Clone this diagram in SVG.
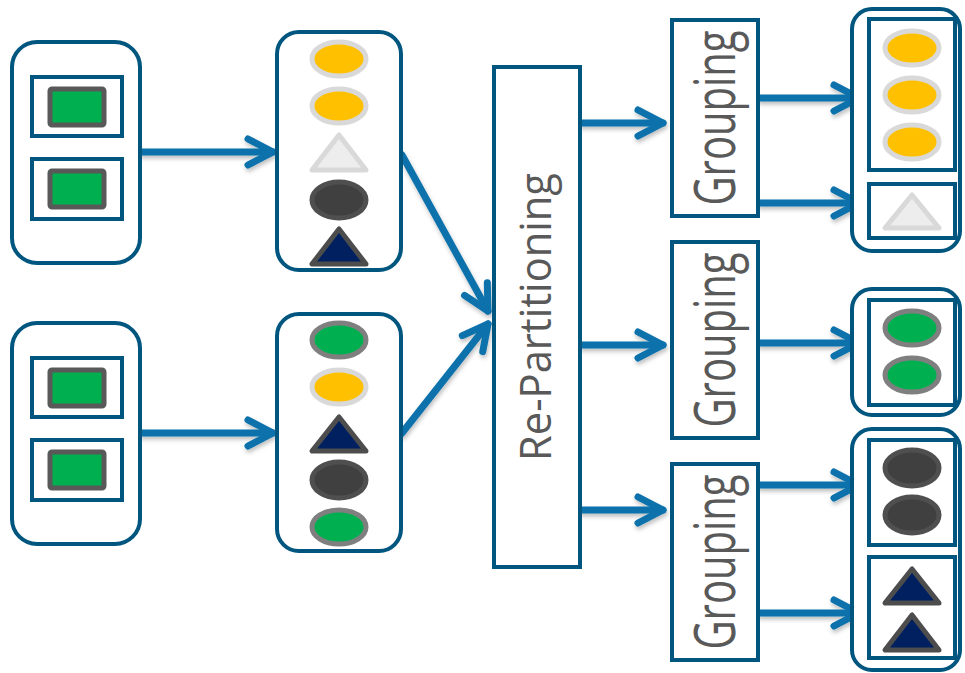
<svg xmlns="http://www.w3.org/2000/svg" width="965" height="673" viewBox="0 0 965 673">
<defs>
<style>
.box{fill:#fff;stroke:#00567F;stroke-width:4}
.grn{fill:#00B050;stroke:#595959;stroke-width:5}
.ye{fill:#FFC000;stroke:#D9D9D9;stroke-width:5}
.ge{fill:#00B050;stroke:#7F7F7F;stroke-width:5}
.de{fill:#404040;stroke:#4F4F4F;stroke-width:5}
.lt{fill:#EDEDED;stroke:#D9D9D9;stroke-width:5;stroke-linejoin:round}
.nt{fill:#002060;stroke:#4D4D4D;stroke-width:5;stroke-linejoin:round}
.arr{fill:none;stroke:#0A71AB;stroke-width:7;stroke-linecap:round;marker-end:url(#ah)}
.lbl{font-family:"Open Sans","Liberation Sans",sans-serif;font-size:40px;fill:#595959;text-anchor:middle}
</style>
<marker id="ah" markerUnits="userSpaceOnUse" viewBox="-40 -20 50 40" markerWidth="50" markerHeight="40" refX="0" refY="0" orient="auto" overflow="visible">
<path d="M-25,-13 L0,0 L-25,13" fill="none" stroke="#0A71AB" stroke-width="7" stroke-linecap="round" stroke-linejoin="round"/>
</marker>
<filter id="sh" x="-20%" y="-20%" width="140%" height="160%">
<feDropShadow dx="1" dy="3" stdDeviation="2" flood-color="#000" flood-opacity="0.25"/>
</filter>
</defs>

<g id="connectors" filter="url(#sh)">
<path class="arr" d="M142,152 L273,152"/>
<path class="arr" d="M142,433 L273,433"/>
<path class="arr" d="M402,155 L488,311"/>
<path class="arr" d="M402,433 L488,324"/>
<path class="arr" d="M582,123 L663,123"/>
<path class="arr" d="M582,345 L663,345"/>
<path class="arr" d="M582,510 L663,510"/>
<path class="arr" d="M760,98 L859,98"/>
<path class="arr" d="M760,203 L859,203"/>
<path class="arr" d="M760,343 L859,343"/>
<path class="arr" d="M760,485 L859,485"/>
<path class="arr" d="M760,613 L859,613"/>
</g>

<g id="input1">
<rect class="box" x="12" y="42" width="128" height="221" rx="25"/>
<rect class="box" x="32" y="77" width="90" height="59"/>
<rect class="grn" x="50" y="89" width="54" height="36" rx="2"/>
<rect class="box" x="32" y="159" width="90" height="60"/>
<rect class="grn" x="50" y="171" width="54" height="36" rx="2"/>
</g>

<g id="input2">
<rect class="box" x="12" y="323" width="128" height="221" rx="25"/>
<rect class="box" x="32" y="358" width="90" height="59"/>
<rect class="grn" x="50" y="370" width="54" height="36" rx="2"/>
<rect class="box" x="32" y="440" width="90" height="60"/>
<rect class="grn" x="50" y="452" width="54" height="36" rx="2"/>
</g>

<g id="partition1">
<rect class="box" x="277" y="32" width="124" height="238" rx="22"/>
<ellipse class="ye" cx="339" cy="59" rx="27" ry="17"/>
<ellipse class="ye" cx="339" cy="106" rx="27" ry="17"/>
<polygon class="lt" points="339,135 312,170 366,170"/>
<ellipse class="de" cx="339" cy="200" rx="27" ry="18"/>
<polygon class="nt" points="339,229 312,264 366,264"/>
</g>

<g id="partition2">
<rect class="box" x="277" y="314" width="124" height="237" rx="22"/>
<ellipse class="ge" cx="339" cy="340" rx="27" ry="17"/>
<ellipse class="ye" cx="339" cy="387" rx="27" ry="17"/>
<polygon class="nt" points="339,417 312,451 366,451"/>
<ellipse class="de" cx="339" cy="480" rx="27" ry="18"/>
<ellipse class="ge" cx="339" cy="527" rx="27" ry="17"/>
</g>

<g id="repartitioning">
<rect class="box" x="494" y="67" width="86" height="500"/>
<text class="lbl" transform="translate(551,317) scale(1.1,1) rotate(-90)" textLength="288" lengthAdjust="spacingAndGlyphs">Re-Partitioning</text>
</g>

<g id="grouping1">
<rect class="box" x="672" y="20" width="86" height="196"/>
<text class="lbl" transform="translate(735,118) scale(1.4,1) rotate(-90)" textLength="175" lengthAdjust="spacingAndGlyphs">Grouping</text>
</g>

<g id="grouping2">
<rect class="box" x="672" y="242" width="86" height="196"/>
<text class="lbl" transform="translate(735,340) scale(1.4,1) rotate(-90)" textLength="175" lengthAdjust="spacingAndGlyphs">Grouping</text>
</g>

<g id="grouping3">
<rect class="box" x="672" y="464" width="86" height="196"/>
<text class="lbl" transform="translate(735,562) scale(1.4,1) rotate(-90)" textLength="175" lengthAdjust="spacingAndGlyphs">Grouping</text>
</g>

<g id="output1">
<rect class="box" x="852" y="9" width="108" height="242" rx="20"/>
<rect class="box" x="869" y="19" width="86" height="151"/>
<ellipse class="ye" cx="912" cy="48" rx="27" ry="17"/>
<ellipse class="ye" cx="912" cy="95" rx="27" ry="17"/>
<ellipse class="ye" cx="912" cy="142" rx="27" ry="17"/>
<rect class="box" x="869" y="184" width="86" height="54"/>
<polygon class="lt" points="912,195 885,228 939,228"/>
</g>

<g id="output2">
<rect class="box" x="852" y="289" width="108" height="126" rx="20"/>
<rect class="box" x="869" y="300" width="86" height="105"/>
<ellipse class="ge" cx="912" cy="328" rx="27" ry="17"/>
<ellipse class="ge" cx="912" cy="375" rx="27" ry="17"/>
</g>

<g id="output3">
<rect class="box" x="852" y="429" width="108" height="241" rx="20"/>
<rect class="box" x="869" y="440" width="86" height="105"/>
<ellipse class="de" cx="912" cy="468" rx="27" ry="18"/>
<ellipse class="de" cx="912" cy="515" rx="27" ry="18"/>
<rect class="box" x="869" y="557" width="86" height="101"/>
<polygon class="nt" points="912,569 885,603 939,603"/>
<polygon class="nt" points="912,615 885,650 939,650"/>
</g>
</svg>
